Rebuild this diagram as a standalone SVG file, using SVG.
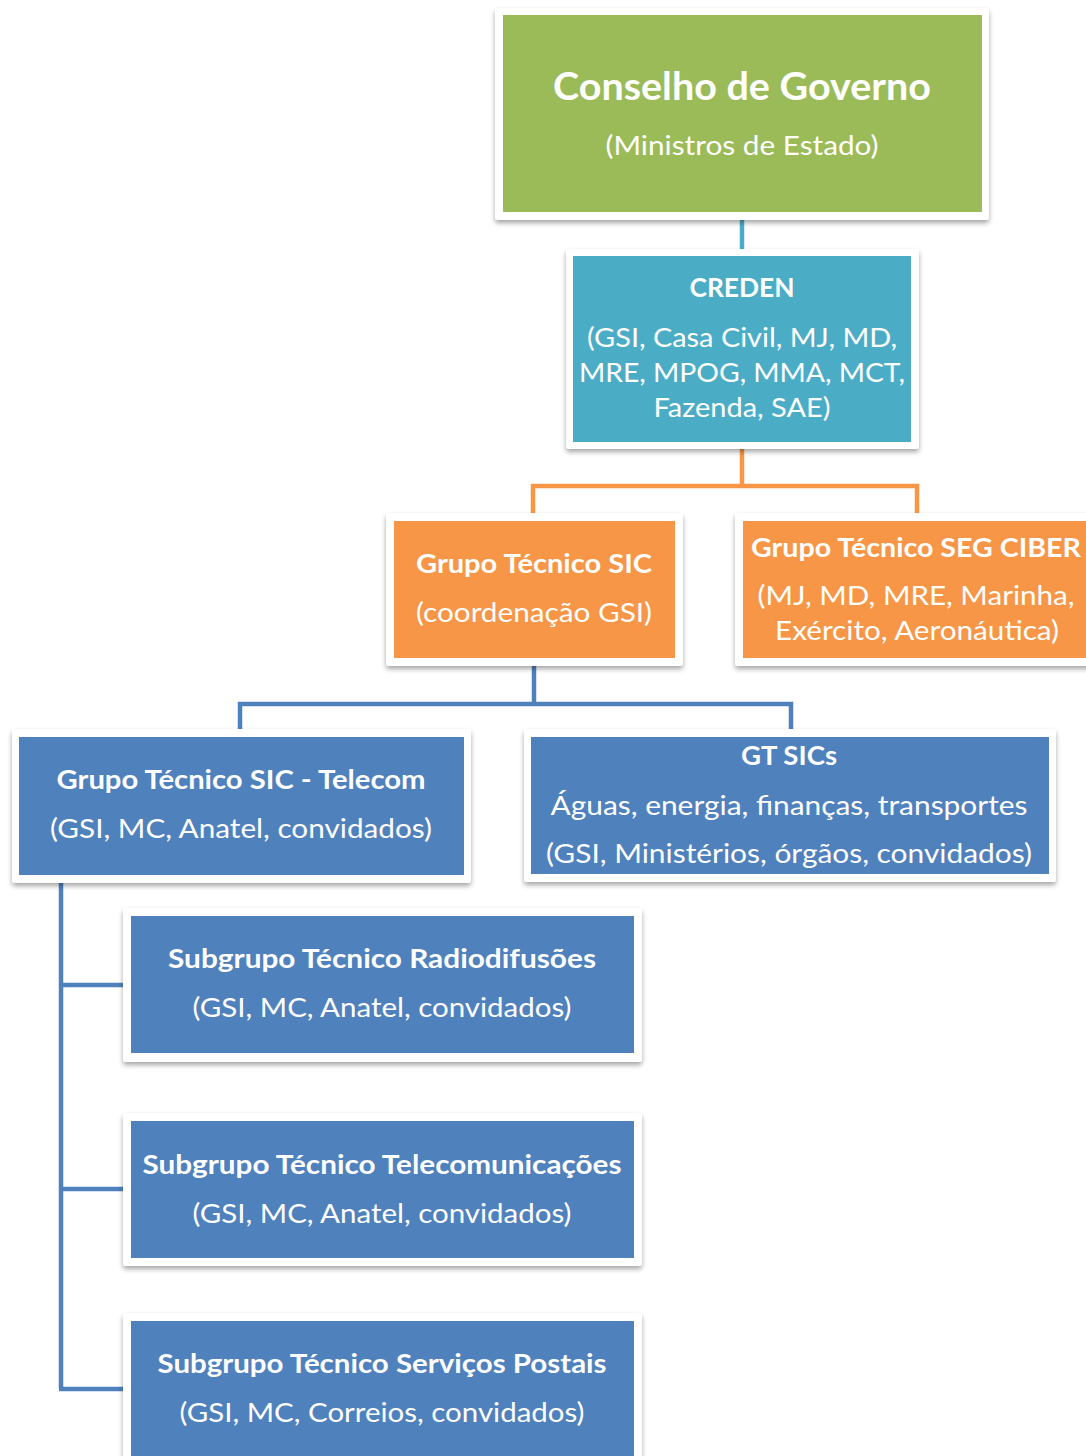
<svg xmlns="http://www.w3.org/2000/svg" width="1086" height="1456" viewBox="0 0 1086 1456">
<defs>
<filter id="sh" x="-5%" y="-5%" width="110%" height="120%">
<feDropShadow dx="0" dy="3" stdDeviation="2.5" flood-color="#000" flood-opacity="0.35"/>
</filter>
<style>
.outer{fill:#fff;filter:url(#sh)}
.green{fill:#9BBB59}.teal{fill:#4BACC6}.orange{fill:#F79646}.blue{fill:#4F81BD}
text{font-family:Lato,"Open Sans","Liberation Sans",sans-serif;fill:#fff;text-anchor:middle}
.b{font-weight:bold;font-size:26.5px}
.n{font-size:26.5px}
.big{font-weight:bold;font-size:39px}
.c{fill:none;stroke-width:4.5;stroke-linejoin:miter}
</style>
</defs>
<rect width="1086" height="1456" fill="#fff"/>
<g id="connectors">
<path class="c" stroke="#4BACC6" d="M742,218 V250"/>
<path class="c" stroke="#F79646" d="M742,448 V486 M533,515 V486 H917 V515"/>
<path class="c" stroke="#4F81BD" d="M534,665 V704 M240,732 V704 H791 V731"/>
<path class="c" stroke="#4F81BD" d="M61,880 V1389 M59,985 H126 M59,1189 H126 M59,1389 H126"/>
</g>
<g id="n1">
<rect class="outer" x="495" y="8" width="494" height="212" rx="3"/>
<rect class="green" x="503" y="15" width="479" height="197"/>
<text class="big" x="742" y="100" textLength="378" lengthAdjust="spacingAndGlyphs">Conselho de Governo</text>
<text class="n" x="742" y="155" textLength="273" lengthAdjust="spacingAndGlyphs">(Ministros de Estado)</text>
</g>
<g id="n2">
<rect class="outer" x="566" y="249" width="353" height="200" rx="3"/>
<rect class="teal" x="573" y="256" width="338" height="186"/>
<text class="b" x="742" y="297" textLength="105" lengthAdjust="spacingAndGlyphs">CREDEN</text>
<text class="n" x="742" y="347" textLength="310" lengthAdjust="spacingAndGlyphs">(GSI, Casa Civil, MJ, MD,</text>
<text class="n" x="742" y="382" textLength="326" lengthAdjust="spacingAndGlyphs">MRE, MPOG, MMA, MCT,</text>
<text class="n" x="742" y="417" textLength="177" lengthAdjust="spacingAndGlyphs">Fazenda, SAE)</text>
</g>
<g id="n3">
<rect class="outer" x="386" y="513" width="297" height="153" rx="3"/>
<rect class="orange" x="394" y="521" width="281" height="137"/>
<text class="b" x="534" y="573" textLength="236" lengthAdjust="spacingAndGlyphs">Grupo Técnico SIC</text>
<text class="n" x="534" y="622" textLength="236" lengthAdjust="spacingAndGlyphs">(coordenação GSI)</text>
</g>
<g id="n4">
<rect class="outer" x="735" y="513" width="360" height="153" rx="3"/>
<rect class="orange" x="743" y="521" width="350" height="137"/>
<text class="b" x="916" y="557" textLength="330" lengthAdjust="spacingAndGlyphs">Grupo Técnico SEG CIBER</text>
<text class="n" x="916" y="605" textLength="317" lengthAdjust="spacingAndGlyphs">(MJ, MD, MRE, Marinha,</text>
<text class="n" x="917" y="640" textLength="284" lengthAdjust="spacingAndGlyphs">Exército, Aeronáutica)</text>
</g>
<g id="n5">
<rect class="outer" x="12" y="729" width="459" height="154" rx="3"/>
<rect class="blue" x="19" y="737" width="445" height="138"/>
<text class="b" x="241" y="789" textLength="369" lengthAdjust="spacingAndGlyphs">Grupo Técnico SIC - Telecom</text>
<text class="n" x="241" y="838" textLength="382" lengthAdjust="spacingAndGlyphs">(GSI, MC, Anatel, convidados)</text>
</g>
<g id="n6">
<rect class="outer" x="524" y="729" width="532" height="153" rx="3"/>
<rect class="blue" x="531" y="737" width="518" height="137"/>
<text class="b" x="789" y="765" textLength="96" lengthAdjust="spacingAndGlyphs">GT SICs</text>
<text class="n" x="789" y="815" textLength="477" lengthAdjust="spacingAndGlyphs">Águas, energia, finanças, transportes</text>
<text class="n" x="789" y="863" textLength="486" lengthAdjust="spacingAndGlyphs">(GSI, Ministérios, órgãos, convidados)</text>
</g>
<g id="n7">
<rect class="outer" x="123" y="908" width="519" height="154" rx="3"/>
<rect class="blue" x="131" y="916" width="503" height="137"/>
<text class="b" x="382" y="968" textLength="428" lengthAdjust="spacingAndGlyphs">Subgrupo Técnico Radiodifusões</text>
<text class="n" x="382" y="1017" textLength="379" lengthAdjust="spacingAndGlyphs">(GSI, MC, Anatel, convidados)</text>
</g>
<g id="n8">
<rect class="outer" x="123" y="1113" width="519" height="153" rx="3"/>
<rect class="blue" x="131" y="1121" width="503" height="137"/>
<text class="b" x="382" y="1174" textLength="479" lengthAdjust="spacingAndGlyphs">Subgrupo Técnico Telecomunicações</text>
<text class="n" x="382" y="1223" textLength="379" lengthAdjust="spacingAndGlyphs">(GSI, MC, Anatel, convidados)</text>
</g>
<g id="n9">
<rect class="outer" x="123" y="1313" width="519" height="160" rx="3"/>
<rect class="blue" x="131" y="1321" width="503" height="150"/>
<text class="b" x="382" y="1373" textLength="449" lengthAdjust="spacingAndGlyphs">Subgrupo Técnico Serviços Postais</text>
<text class="n" x="382" y="1422" textLength="405" lengthAdjust="spacingAndGlyphs">(GSI, MC, Correios, convidados)</text>
</g>
</svg>
